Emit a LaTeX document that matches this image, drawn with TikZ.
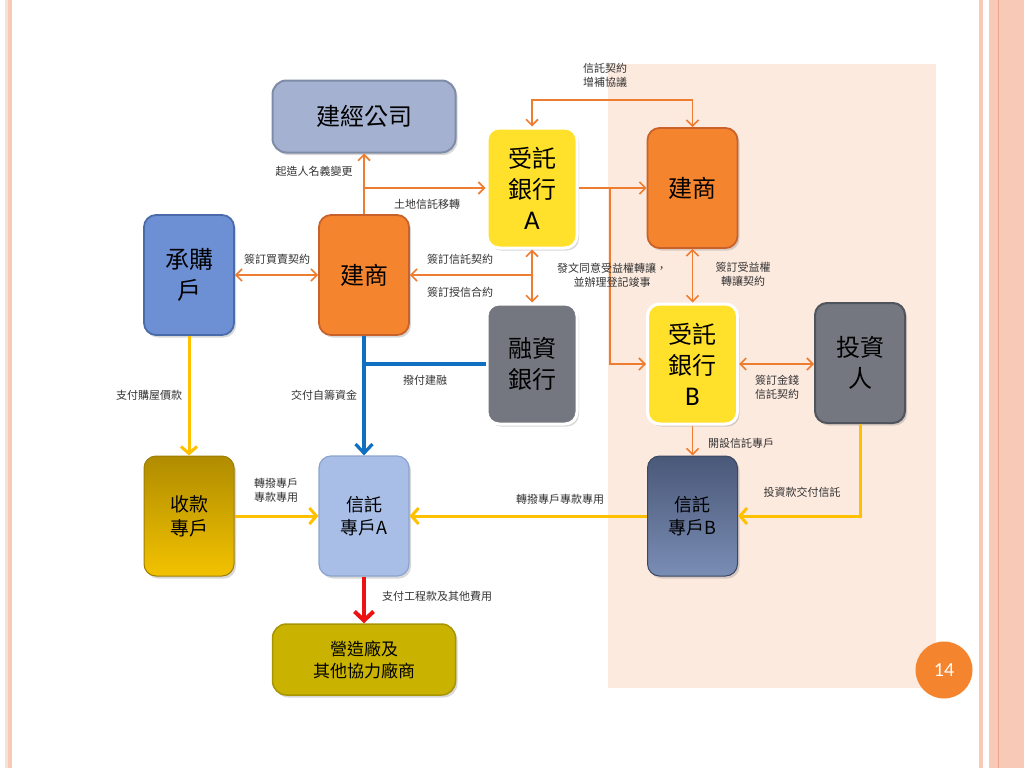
\documentclass[tikz,border=0pt]{standalone}
\usepackage{fontspec}
\setmainfont{Noto Sans CJK TC}
\newfontfamily\latinf{Carlito}
\usetikzlibrary{arrows.meta,shadows}
\definecolor{peach}{HTML}{FDEADF}
\definecolor{stripeA}{HTML}{F9C9B8}
\definecolor{stripeB}{HTML}{F7E3D5}
\definecolor{stripeD}{HTML}{E9A488}
\definecolor{orangeF}{HTML}{F5842F}
\definecolor{orangeD}{HTML}{C8622A}
\definecolor{orangeL}{HTML}{ED7D31}
\definecolor{yellowF}{HTML}{FFE12C}
\definecolor{grayF}{HTML}{74777F}
\definecolor{grayD}{HTML}{50545C}
\definecolor{blueF}{HTML}{6D90D5}
\definecolor{blueD}{HTML}{4A6BAA}
\definecolor{slateF}{HTML}{A5B1D0}
\definecolor{slateD}{HTML}{7F8CA8}
\definecolor{lblueF}{HTML}{A8BEE6}
\definecolor{lblueD}{HTML}{8CA3CE}
\definecolor{goldT}{HTML}{B08C00}
\definecolor{goldB}{HTML}{F2C200}
\definecolor{navyT}{HTML}{4A5878}
\definecolor{navyB}{HTML}{7A8DB5}
\definecolor{oliveF}{HTML}{C9B300}
\definecolor{oliveD}{HTML}{A89400}
\definecolor{yline}{HTML}{FFC000}
\definecolor{bline}{HTML}{0F6FC0}
\definecolor{rline}{HTML}{EE1111}
\definecolor{lbl}{HTML}{333333}
\tikzset{
  box/.style={rounded corners=12pt, minimum width=90pt, minimum height=120pt, inner sep=0pt, align=center,
    font=\fontsize{24}{31}\selectfont, drop shadow={shadow xshift=2pt, shadow yshift=-2.5pt, opacity=0.3}},
  orangebox/.style={box, fill=orangeF, draw=orangeD, line width=1.8pt},
  yellowbox/.style={box, fill=yellowF, draw=white, line width=3pt},
  graybox/.style={box, fill=grayF, draw=white, line width=3pt},
  bluebox/.style={box, fill=blueF, draw=blueD, line width=1.8pt},
  widebox/.style={box, minimum width=183pt, minimum height=72pt, rounded corners=14pt},
  lab/.style={font=\fontsize{11}{14}\selectfont, text=lbl, align=center, inner sep=0pt},
  oline/.style={draw=orangeL, line width=1.6pt},
  oarr/.style={oline, -{Straight Barb[length=6pt,width=12pt]}},
  obi/.style={oline, {Straight Barb[length=6pt,width=12pt]}-{Straight Barb[length=6pt,width=12pt]}},
  yarr/.style={draw=yline, line width=3pt, -{Straight Barb[length=7pt,width=16pt]}},
  barr/.style={draw=bline, line width=3.2pt, -{Straight Barb[length=9pt,width=17pt]}},
  rarr/.style={draw=rline, line width=4pt, -{Straight Barb[length=9pt,width=19pt]}}
}
\begin{document}
\begin{tikzpicture}[x=1pt,y=-1pt]
\useasboundingbox (0,0) rectangle (1024,768);
\fill[white] (0,0) rectangle (1024,768);
% borders
\fill[stripeB] (5,0) rectangle (8,768);
\fill[stripeA] (8,0) rectangle (12,768);
\fill[stripeA] (979,0) rectangle (983,768);
\fill[stripeA] (989,0) rectangle (1024,768);
\draw[stripeD, line width=0.8pt] (998,0) -- (998,768);
% peach region
\fill[peach] (608,64) rectangle (936,688);

% nodes
\node[widebox, fill=slateF, draw=slateD, line width=2pt] (jg) at (364,116.5) {建經公司};
\node[yellowbox] (ta) at (532,188) {受託\\銀行\\{\latinf\fontsize{27}{31}\selectfont A}};
\node[orangebox] (jt) at (692.5,188) {建商};
\node[bluebox] (cb) at (189,275) {承購\\戶};
\node[orangebox] (jm) at (364,275) {建商};
\node[graybox] (rz) at (532,364) {融資\\銀行};
\node[yellowbox] (tb) at (692.5,364) {受託\\銀行\\{\latinf\fontsize{27}{31}\selectfont B}};
\node[box, fill=grayF, draw=grayD, line width=2pt] (inv) at (860,363) {投資\\人};
\node[box, top color=goldT, bottom color=goldB, draw=goldT!90!black, line width=1pt,
      font=\fontsize{19}{24}\selectfont] (sk) at (189,516) {收款\\專戶};
\node[box, fill=lblueF, draw=lblueD, line width=1.2pt,
      font=\fontsize{18}{23}\selectfont] (xa) at (364,516) {信託\\專戶A};
\node[box, top color=navyT, bottom color=navyB, draw=navyT!80!black, line width=1pt,
      font=\fontsize{18}{23}\selectfont] (xb) at (692.5,516) {信託\\專戶B};
\node[widebox, fill=oliveF, draw=oliveD, line width=1.5pt, minimum height=71pt,
      font=\fontsize{17}{22}\selectfont] (yz) at (364,659.5) {營造廠及\\其他協力廠商};

% page number
\node[circle, fill=orangeF, minimum size=57pt, inner sep=0pt, text=white,
      font=\latinf\fontsize{20}{22}\selectfont] (pg) at (944,670) {14};

% coordinates
\coordinate (c1) at (jm.north |- ta.west);
\coordinate (c2) at (610,188);
\coordinate (c3) at (ta.south |- jm.east);
\coordinate (c4) at (jm.south |- rz.west);

% orange connectors
\draw[oarr] (jm.north) -- (jg.south);
\draw[oarr] (c1) -- (ta.west);
\draw[obi] (cb.east) -- (jm.west);
\draw[obi] (ta.south) -- (rz.north);
\draw[oarr] (c3) -- (jm.east);
\draw[oarr] (ta.east) -- (jt.west);
\draw[oarr] (c2) |- (tb.west);
\draw[obi] (jt.north) -- ++(0,-27) -| (ta.north);
\draw[obi] (jt.south) -- (tb.north);
\draw[obi] (tb.east) -- (inv.west |- tb.east);
\draw[oarr] (tb.south) -- (xb.north);

% yellow connectors
\draw[yarr] (inv.south) |- (xb.east);
\draw[yarr] (xb.west) -- (xa.east);
\draw[yarr] (sk.east) -- (xa.west);
\draw[yarr] (cb.south) -- (sk.north);

% blue
\draw[barr] (jm.south) -- (xa.north);
\draw[draw=bline, line width=3.2pt] (rz.west) -- (c4);

% red
\draw[rarr] (xa.south) -- (yz.north);

% labels
\node[lab] (l1) at (314,171) {起造人名義變更};
\node[lab] (l2) at (427,204) {土地信託移轉};
\node[lab] (l3) at (277,259) {簽訂買賣契約};
\node[lab] (l4) at (460,259) {簽訂信託契約};
\node[lab] (l5) at (460,292) {簽訂授信合約};
\node[lab] (l6) at (605,75) {信託契約\\增補協議};
\node[lab] (l7) at (612,275) {發文同意受益權轉讓，\\並辦理登記竣事};
\node[lab] (l8) at (743,274) {簽訂受益權\\轉讓契約};
\node[lab] (l9) at (777,387) {簽訂金錢\\信託契約};
\node[lab] (l10) at (741,443) {開設信託專戶};
\node[lab] (l11) at (802,492) {投資款交付信託};
\node[lab] (l12) at (560,499) {轉撥專戶專款專用};
\node[lab] (l13) at (276,490) {轉撥專戶\\專款專用};
\node[lab] (l14) at (149,395) {支付購屋價款};
\node[lab] (l15) at (324,395) {交付自籌資金};
\node[lab] (l16) at (425,380) {撥付建融};
\node[lab] (l17) at (437,596) {支付工程款及其他費用};
\end{tikzpicture}
\end{document}
